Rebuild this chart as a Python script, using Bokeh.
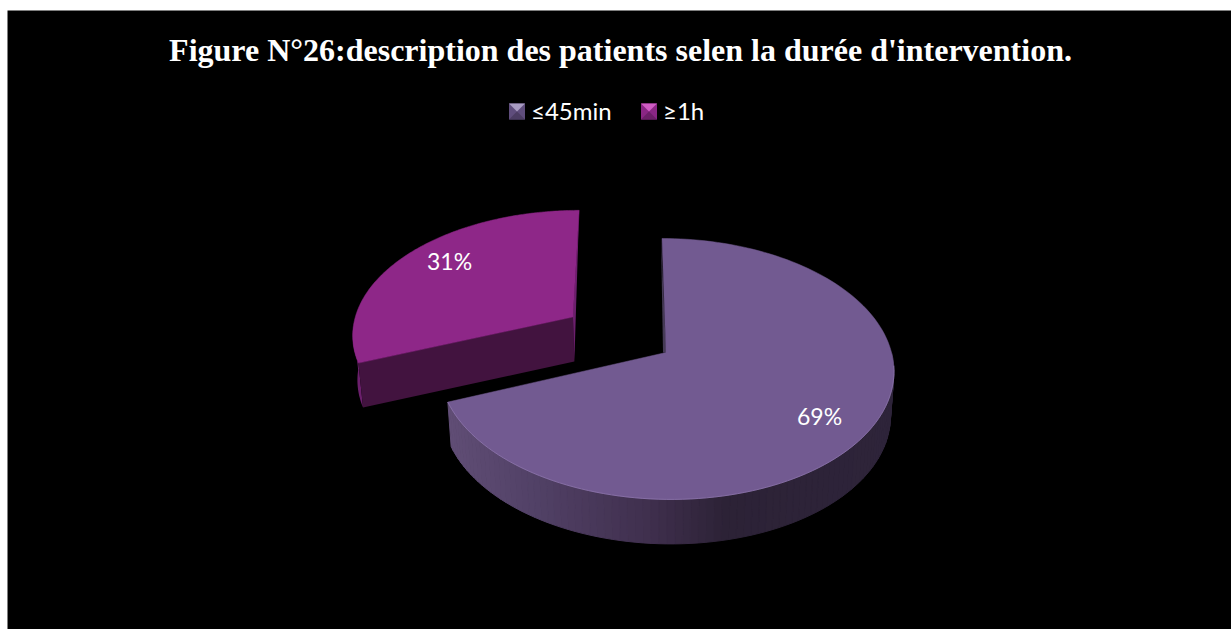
import math
from bokeh.plotting import figure
from bokeh.models import Range1d
from bokeh.core.properties import value
from bokeh.embed import file_html
from bokeh.resources import INLINE

TITLE = "Figure N°26:description des patients selen la durée d'intervention."
categories = ["≤45min", "≥1h"]
values = [69, 31]
explode = [0.0, 0.51]

# colours
top_col = ["#725a91", "#8e2788"]
cut_col = ["#453a55", "#42133f"]
rim_col = ["#2c2236", "#6b1f6c"]
leg_col = [("#a99cc2", "#5f4d7c", "#4c3d63"), ("#d05cc4", "#8a2684", "#6c1f68")]

# projection of the pie plane on the page (page pixels)
CX, CY, RX, RY, K, SHEAR = 665.5, 352.0, 225.5, 128.4, 0.126, 0.035
DEPTH, SC = 44.5, 0.985
W, H = 1231, 629
FONT = "Lato"
label_nudge = [(-2.5, 4), (7, -6)]


def proj(u, v):
    d = 1 - K * v
    y = RY * v / d
    return CX + RX * u / d + SHEAR * y, CY + y


def low(pt):
    return CX + (pt[0] - CX) * SC, pt[1] + DEPTH


def arc_pts(a0, a1, ex, mid, n=140):
    eu, ev = ex * math.sin(mid), -ex * math.cos(mid)
    out = []
    for i in range(n + 1):
        a = a0 + (a1 - a0) * i / n
        out.append(proj(eu + math.sin(a), ev - math.cos(a)))
    return out, proj(eu, ev)


def lerp_col(x):
    stops = [(448, (0x60, 0x4d, 0x75)), (520, (0x54, 0x43, 0x69)), (650, (0x3f, 0x2f, 0x4d)),
             (725, (0x2c, 0x22, 0x36)), (895, (0x2e, 0x24, 0x3a))]
    for (x0, c0), (x1, c1) in zip(stops, stops[1:]):
        if x <= x1:
            t = max(0.0, (x - x0) / (x1 - x0))
            return "#%02x%02x%02x" % tuple(round(a + (b - a) * t) for a, b in zip(c0, c1))
    return "#2e243a"


p = figure(width=W, height=H, output_backend="svg", toolbar_location=None,
           x_range=Range1d(7, W), y_range=Range1d(H, 10),
           min_border_left=7, min_border_right=0, min_border_top=10, min_border_bottom=0,
           background_fill_color="#000000", border_fill_color="#ffffff", outline_line_color=None)
p.xaxis.visible = False
p.yaxis.visible = False
p.grid.visible = False

total = sum(values)
starts, a = [], 0.0
for v in values:
    starts.append(a)
    a += 2 * math.pi * v / total

# exploded slice first: it lies behind the big one
order = [1, 0]
for i in order:
    a0 = starts[i]
    a1 = a0 + 2 * math.pi * values[i] / total
    mid = (a0 + a1) / 2
    pts, apex = arc_pts(a0, a1, explode[i], mid)
    xs = [q[0] for q in pts]
    ys = [q[1] for q in pts]
    if i == 0:
        # outer rim, shaded along x
        sx, sy, sc = [], [], []
        for q0, q1 in zip(pts, pts[1:]):
            if q0[0] <= max(xs) + 1 and q0[1] > CY:
                l0, l1 = low(q0), low(q1)
                sx.append([q0[0], q1[0], l1[0], l0[0]])
                sy.append([q0[1], q1[1], l1[1], l0[1]])
                sc.append(lerp_col((q0[0] + q1[0]) / 2))
        p.patches(sx, sy, fill_color=sc, line_color=sc, line_width=1)
        # thin cut face next to the vertical edge
        t = pts[0]
        p.patch([t[0] - 1, apex[0], apex[0] - 3], [t[1], apex[1], apex[1]], fill_color=cut_col[i], line_color=None)
    else:
        # rim sliver at the left, then the cut face and the thin right face
        rim = [q for q in pts if q[0] < pts[0][0] + 5 and q[1] > 325]
        l_rim = [low(q) for q in rim]
        p.patch([q[0] for q in rim] + [q[0] for q in reversed(l_rim)],
                [q[1] for q in rim] + [q[1] for q in reversed(l_rim)],
                fill_color=rim_col[i], line_color=None)
        l0, la = low(pts[0]), low(apex)
        p.patch([pts[0][0], apex[0], la[0], l0[0]], [pts[0][1], apex[1], la[1], l0[1]],
                fill_color=cut_col[i], line_color=None)
        e = pts[-1]
        p.patch([e[0], apex[0], la[0]], [e[1], apex[1], la[1]], fill_color=rim_col[i], line_color=None)
    p.patch(xs + [apex[0]], ys + [apex[1]], fill_color=top_col[i], line_color=top_col[i], line_width=0.5)
    if i == 0:
        lower = [q for q in pts if q[1] > CY + 10]
        p.line([q[0] for q in lower], [q[1] for q in lower], line_color="#8d76ad", line_width=1, line_alpha=0.8)

# data labels
for i in range(len(values)):
    mid = starts[i] + math.pi * values[i] / total
    r = explode[i] + 0.78
    lx, ly = proj(r * math.sin(mid), -r * math.cos(mid))
    p.text([lx + label_nudge[i][0]], [ly + label_nudge[i][1]], text=[f"{values[i]}%"], text_color="#ffffff",
           text_font=value(FONT), text_font_size="23px", text_align="center", text_baseline="middle")

# title
p.text([620], [49], text=[TITLE], text_color="#ffffff", text_font=value("Liberation Serif"),
       text_font_style="bold", text_font_size="32px", text_align="center", text_baseline="middle")

# legend
leg_x = [508.5, 640.5]
for i, name in enumerate(categories):
    x0, x1, y0, y1 = leg_x[i], leg_x[i] + 16, 103.0, 119.0
    xm, ym = (x0 + x1) / 2, (y0 + y1) / 2
    hi, mi, lo = leg_col[i]
    p.patch([x0, x1, x1, x0], [y0, y0, y1, y1], fill_color=mi, line_color=None)
    p.patch([x0, x1, xm], [y0, y0, ym], fill_color=hi, line_color=None)
    p.patch([x0, x1, xm], [y1, y1, ym], fill_color=lo, line_color=None)
    p.text([x1 + 6], [110], text=[name], text_color="#ffffff", text_font=value(FONT),
           text_font_size="24px", text_align="left", text_baseline="middle")

open("out.html", "w").write(file_html(p, INLINE))
